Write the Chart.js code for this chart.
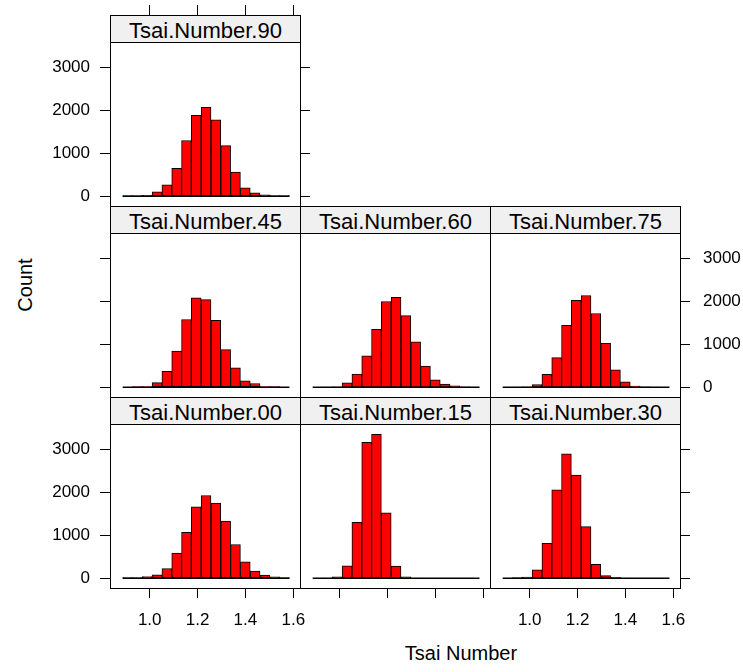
<!DOCTYPE html>
<html>
<head>
<meta charset="utf-8">
<script src="https://cdn.jsdelivr.net/npm/chart.js@4.4.0/dist/chart.umd.min.js"></script>
<style>
  body { margin: 0; background: #fff; font-family: "Liberation Sans", Arial, sans-serif; }
  #wrap { position: relative; width: 743px; height: 672px; overflow: hidden; }
  canvas { position: absolute; left: 0; top: 0; }
  .frame { position: absolute; box-sizing: border-box; border: 1px solid #000; width: 191px; height: 192px; }
  .strip { position: absolute; left: -1px; top: -1px; width: 191px; height: 28px; box-sizing: border-box;
           border: 1px solid #000; background: #f0f0f0; text-align: center; font-size: 22px;
           line-height: 24px; padding-top: 3px; color: #000; white-space: nowrap; }
  .lab { position: absolute; font-size: 20px; white-space: nowrap; color: #000; }
</style>
</head>
<body>
<div id="wrap">
  <div class="lab" style="left:25px; top:285px; transform: translate(-50%,-50%) rotate(-90deg);">Count</div>
  <div class="lab" style="left:461px; top:653px; transform: translate(-50%,-50%);">Tsai Number</div>
</div>
<script>
// histogram breaks (shared by all panels)
const breaks = [0.887, 0.928, 0.969, 1.010, 1.051, 1.092, 1.133, 1.174, 1.215,
                1.256, 1.297, 1.338, 1.379, 1.420, 1.461, 1.502, 1.543, 1.584];

// counts per bin
const tsai90 = [2, 5, 20, 100, 265, 650, 1300, 1885, 2075, 1785, 1180, 560, 195, 75, 30, 12, 3];
const tsai45 = [0, 2, 8, 105, 370, 840, 1580, 2085, 2045, 1560, 875, 450, 150, 85, 10, 3, 0];
const tsai60 = [0, 2, 10, 100, 305, 730, 1350, 2000, 2100, 1670, 1060, 490, 170, 70, 30, 8, 2];
const tsai75 = [0, 2, 8, 60, 300, 690, 1445, 2030, 2140, 1720, 1025, 405, 125, 25, 5, 2, 0];
const tsai00 = [2, 5, 35, 75, 225, 585, 1070, 1665, 1930, 1755, 1335, 785, 380, 165, 70, 30, 8];
const tsai15 = [0, 3, 30, 290, 1305, 3170, 3360, 1525, 280, 30, 3, 0, 0, 0, 0, 0, 0];
const tsai30 = [0, 15, 25, 195, 815, 2060, 2905, 2410, 1205, 325, 62, 20, 3, 0, 0, 0, 0];

const xTicks = [1.0, 1.2, 1.4, 1.6];
const yTicks = [0, 1000, 2000, 3000];
const xMin = 0.834, xMax = 1.628;
const yMin = -230, yMax = 3600;

const W = 743, H = 672;
const colLeft = [110, 300, 490];
const rowTop = [15, 206, 397];

const panels = [
  { name: 'Tsai.Number.90', counts: tsai90, col: 0, row: 0, left: 'labels', right: 'ticks', top: 'ticks' },
  { name: 'Tsai.Number.45', counts: tsai45, col: 0, row: 1, left: 'ticks' },
  { name: 'Tsai.Number.60', counts: tsai60, col: 1, row: 1 },
  { name: 'Tsai.Number.75', counts: tsai75, col: 2, row: 1, right: 'labels' },
  { name: 'Tsai.Number.00', counts: tsai00, col: 0, row: 2, left: 'labels', bottom: 'labels' },
  { name: 'Tsai.Number.15', counts: tsai15, col: 1, row: 2, bottom: 'ticks' },
  { name: 'Tsai.Number.30', counts: tsai30, col: 2, row: 2, right: 'ticks', bottom: 'labels' }
];

Chart.defaults.font.family = '"Liberation Sans", Arial, sans-serif';
Chart.defaults.color = '#000';

const mids = breaks.slice(1).map((b, i) => (b + breaks[i]) / 2);

function grid(len) {
  return { drawOnChartArea: false, drawTicks: true, tickLength: len, color: '#000', tickColor: '#000', tickWidth: 1, offset: false };
}

function axisX(pos, kind, size, len) {
  return {
    type: 'linear', position: pos, min: xMin, max: xMax, offset: false,
    afterBuildTicks: s => { s.ticks = xTicks.map(v => ({ value: v })); },
    afterFit: s => { s.height = size; },
    grid: grid(len || 10),
    border: { display: false },
    ticks: { display: kind === 'labels', autoSkip: false, maxRotation: 0, padding: 12,
             font: { size: 17 }, callback: v => v.toFixed(1) }
  };
}

function axisY(pos, kind, size) {
  return {
    type: 'linear', position: pos, min: yMin, max: yMax,
    afterBuildTicks: s => { s.ticks = yTicks.map(v => ({ value: v })); },
    afterFit: s => { s.width = size; },
    grid: grid(10),
    border: { display: false },
    ticks: { display: kind === 'labels', autoSkip: false, padding: pos === 'left' ? 10 : 13,
             font: { size: 17 }, callback: v => String(v) }
  };
}

const wrap = document.getElementById('wrap');

panels.forEach(p => {
  const left = colLeft[p.col], right = left + 190;
  const top = rowTop[p.row] + 27, bottom = rowTop[p.row] + 191;
  const L = left, R = W - right, T = top, B = H - bottom;

  const canvas = document.createElement('canvas');
  canvas.width = W; canvas.height = H;
  wrap.appendChild(canvas);

  const scales = {
    x: p.bottom ? axisX('bottom', p.bottom, B) : { type: 'linear', display: false, min: xMin, max: xMax, offset: false },
    y: p.left ? axisY('left', p.left, L) : { type: 'linear', display: false, min: yMin, max: yMax }
  };
  if (p.top) scales.xTop = axisX('top', p.top, T, 37);
  if (p.right) scales.yRight = axisY('right', p.right, R);

  new Chart(canvas, {
    type: 'bar',
    data: {
      datasets: [
        {
          type: 'line', order: 0,
          data: [{ x: breaks[0], y: 0 }, { x: breaks[breaks.length - 1], y: 0 }],
          borderColor: '#000', borderWidth: 1.5, pointRadius: 0, fill: false
        },
        {
          type: 'bar', order: 1,
          data: mids.map((m, i) => ({ x: m, y: p.counts[i] })),
          backgroundColor: '#ff0000', borderColor: '#000', borderWidth: 1,
          borderSkipped: false, barPercentage: 1, categoryPercentage: 1
        }
      ]
    },
    options: {
      responsive: false, animation: false, devicePixelRatio: 1,
      layout: { padding: { left: p.left ? 0 : L, right: p.right ? 0 : R, top: p.top ? 0 : T, bottom: p.bottom ? 0 : B } },
      plugins: { legend: { display: false }, tooltip: { enabled: false } },
      scales
    }
  });

  // panel frame and strip
  const frame = document.createElement('div');
  frame.className = 'frame';
  frame.style.left = left + 'px';
  frame.style.top = rowTop[p.row] + 'px';
  const strip = document.createElement('div');
  strip.className = 'strip';
  strip.textContent = p.name;
  frame.appendChild(strip);
  wrap.appendChild(frame);
});
</script>
</body>
</html>
